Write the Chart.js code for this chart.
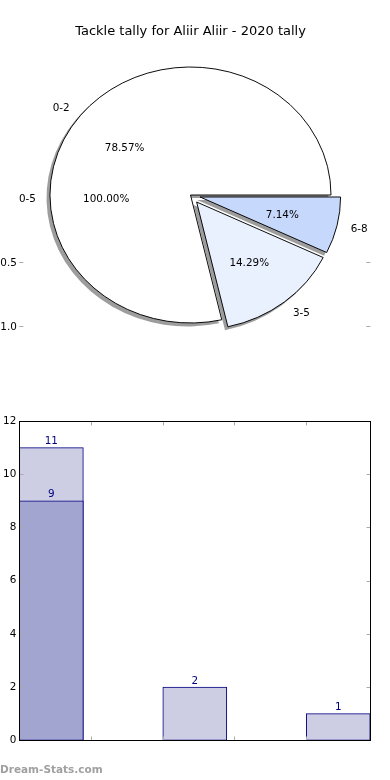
<!DOCTYPE html>
<html>
<head>
<meta charset="utf-8">
<script src="https://cdn.jsdelivr.net/npm/chart.js@4.4.0/dist/chart.umd.min.js"></script>
<style>
  html, body { margin: 0; padding: 0; background: #fff; }
  .box { position: absolute; left: 0; width: 390px; }
  #pieBox { top: 0; height: 380px; }
  #barBox { top: 380px; height: 400px; }
</style>
</head>
<body>
<div class="box" id="pieBox"><canvas id="pieChart"></canvas></div>
<div class="box" id="barBox"><canvas id="barChart"></canvas></div>
<script>
const chartTitle = 'Tackle tally for Aliir Aliir - 2020 tally';

// pie: inner slices (the outer 0-5 pie is hidden underneath, only its labels show)
const sliceLabels  = ['0-2', '3-5', '6-8'];
const sliceValues  = [11, 2, 1];
const sliceColors  = ['#ffffff', '#eaf1fe', '#c6d9fd'];
const sliceExplode = [0, 0.07, 0.07];
const outerLabels  = ['0-5'];
const outerValues  = [14];
const pieAxisTicks = [0.5, 1.0];   // stray y ticks left over on the pie axes

// bars
const barPositions = [0, 1, 2];
const totalCounts  = [11, 2, 1];
const subsetCounts = [9, null, null];

const FONT = 'DejaVu Sans';
const NAVY = '#000080';
const SQUASH = 128 / 140.5;         // pie axes were not square -> ellipse
const AX_LEFT = 19.3, AX_RIGHT = 370.3;
const TEXT_DY = 1.2;                // mpl centers text a touch lower

Chart.defaults.font.family = FONT;
Chart.defaults.animation = false;

// chart.js goes clockwise, matplotlib counter-clockwise: feed slices reversed
const pieLabels  = sliceLabels.slice().reverse();
const pieValues  = sliceValues.slice().reverse();
const pieColors  = sliceColors.slice().reverse();
const pieExplode = sliceExplode.slice().reverse();

function sliceShift(arc, i) {
  const mid = (arc.startAngle + arc.endAngle) / 2;
  const d = pieExplode[i] * arc.outerRadius;
  return { dx: Math.cos(mid) * d, dy: Math.sin(mid) * d, mid };
}

const mplPie = {
  id: 'mplPie',
  beforeDatasetDraw(chart, args) {
    const ctx = chart.ctx;
    const arcs = args.meta.data;
    const cx = arcs[0].x, cy = arcs[0].y;
    ctx.save();
    ctx.translate(cx, cy);
    ctx.scale(1, SQUASH);
    ctx.translate(-cx, -cy);
    // shadows first
    arcs.forEach((arc, i) => {
      const s = sliceShift(arc, i);
      const x = arc.x + s.dx - 3, y = arc.y + s.dy + 3.3;
      ctx.beginPath();
      ctx.moveTo(x, y);
      ctx.arc(x, y, arc.outerRadius + 0.5, arc.startAngle, arc.endAngle);
      ctx.closePath();
      ctx.fillStyle = 'rgba(77,77,77,0.55)';
      ctx.fill();
    });
    arcs.forEach((arc, i) => {
      const s = sliceShift(arc, i);
      ctx.save();
      ctx.translate(s.dx, s.dy);
      arc.draw(ctx);
      ctx.restore();
    });
    ctx.restore();
    return false;
  },
  afterDraw(chart) {
    const ctx = chart.ctx;
    const arcs = chart.getDatasetMeta(0).data;
    const cx = arcs[0].x, cy = arcs[0].y, R = arcs[0].outerRadius;
    const sy = y => cy + (y - cy) * SQUASH + TEXT_DY;
    const total = pieValues.reduce((a, b) => a + b, 0);
    ctx.save();
    ctx.font = '10.4px "' + FONT + '"';
    ctx.fillStyle = '#000';
    ctx.textBaseline = 'middle';

    // hidden outer pie labels (that pie sits a few px lower)
    const outerTotal = outerValues.reduce((a, b) => a + b, 0);
    const ocy = cy + 3;
    let start = 0;
    outerValues.forEach((v, i) => {
      const frac = v / outerTotal;
      const mid = start + Math.PI * frac;
      start += 2 * Math.PI * frac;
      const c = Math.cos(mid), sn = Math.sin(mid);
      ctx.textAlign = c > 0 ? 'left' : 'right';
      ctx.fillText(outerLabels[i], cx + 1.1 * R * c, sy(ocy + 1.1 * R * sn));
      ctx.textAlign = 'center';
      ctx.fillText((frac * 100).toFixed(2) + '%', cx + 0.6 * R * c, sy(ocy + 0.6 * R * sn));
    });

    arcs.forEach((arc, i) => {
      const s = sliceShift(arc, i);
      const c = Math.cos(s.mid), sn = Math.sin(s.mid);
      ctx.textAlign = c > 0 ? 'left' : 'right';
      ctx.fillText(pieLabels[i], arc.x + s.dx + 1.1 * R * c, sy(arc.y + s.dy + 1.1 * R * sn));
      ctx.textAlign = 'center';
      const pct = (pieValues[i] / total * 100).toFixed(2) + '%';
      ctx.fillText(pct, arc.x + s.dx + 0.6 * R * c, sy(arc.y + s.dy + 0.6 * R * sn));
    });

    // stray axis ticks
    ctx.textAlign = 'right';
    pieAxisTicks.forEach(v => {
      const y = Math.round(cy + v * R * SQUASH + 2.5) + 0.5;
      ctx.fillText(v.toFixed(1), AX_LEFT - 2.5, y + 0.5);
      ctx.strokeStyle = '#aaa';
      ctx.lineWidth = 1;
      ctx.beginPath();
      ctx.moveTo(AX_LEFT, y); ctx.lineTo(AX_LEFT + 4, y);
      ctx.moveTo(AX_RIGHT - 4, y); ctx.lineTo(AX_RIGHT, y);
      ctx.stroke();
    });
    ctx.restore();
  }
};

new Chart(document.getElementById('pieChart'), {
  type: 'pie',
  data: {
    labels: pieLabels,
    datasets: [{
      data: pieValues,
      backgroundColor: pieColors,
      borderColor: '#000',
      borderWidth: 1,
      radius: 140.5,
    }]
  },
  options: {
    responsive: true,
    maintainAspectRatio: false,
    rotation: 90,
    events: [],
    layout: { padding: { left: 0, right: 9, top: 0, bottom: 29.6 } },
    plugins: {
      legend: { display: false },
      tooltip: { enabled: false },
      title: {
        display: true,
        text: chartTitle,
        color: '#000',
        font: { size: 13, weight: 'normal', family: FONT },
        padding: { top: 24, bottom: 0 },
      }
    }
  },
  plugins: [mplPie]
});

const mplFrame = {
  id: 'mplFrame',
  afterDatasetsDraw(chart) {
    const ctx = chart.ctx;
    const { left, right, top, bottom } = chart.chartArea;
    const L = Math.round(left) + 0.5, Rr = Math.round(right) + 0.5;
    const T = Math.round(top) + 0.5, B = Math.round(bottom) + 0.5;
    ctx.save();
    // value labels
    ctx.font = '10.4px "' + FONT + '"';
    ctx.fillStyle = NAVY;
    ctx.textAlign = 'center';
    ctx.textBaseline = 'alphabetic';
    chart.data.datasets.forEach((ds, di) => {
      chart.getDatasetMeta(di).data.forEach((bar, i) => {
        const v = ds.data[i].y;
        if (v === null) return;
        ctx.fillText(String(v), bar.x, bar.y - 3.5);
      });
    });
    // tick marks, inward on all four sides
    ctx.strokeStyle = '#aaa';
    ctx.lineWidth = 1;
    ctx.beginPath();
    const ys = chart.scales.y, xs = chart.scales.x;
    ys.ticks.forEach(t => {
      const y = Math.round(ys.getPixelForValue(t.value)) + 0.5;
      ctx.moveTo(L, y); ctx.lineTo(L + 4, y);
      ctx.moveTo(Rr - 4, y); ctx.lineTo(Rr, y);
    });
    xs.ticks.forEach(t => {
      const x = Math.round(xs.getPixelForValue(t.value)) + 0.5;
      ctx.moveTo(x, T); ctx.lineTo(x, T + 4);
      ctx.moveTo(x, B - 4); ctx.lineTo(x, B);
    });
    ctx.stroke();
    // frame
    ctx.strokeStyle = '#000';
    ctx.strokeRect(L, T, Rr - L, B - T);
    // watermark
    ctx.font = 'bold 10.5px "' + FONT + '"';
    ctx.fillStyle = '#a0a0a0';
    ctx.textAlign = 'left';
    ctx.textBaseline = 'middle';
    ctx.fillText('Dream-Stats.com', 0, 390);
    ctx.restore();
  }
};

const toPoints = vals => barPositions.map((x, i) => ({ x, y: vals[i] }));

new Chart(document.getElementById('barChart'), {
  type: 'bar',
  data: {
    datasets: [
      {
        data: toPoints(subsetCounts),
        backgroundColor: '#a3a5d1',
        borderColor: NAVY,
        borderWidth: 1,
        borderSkipped: false,
        barThickness: 64,
        grouped: false,
      },
      {
        data: toPoints(totalCounts),
        backgroundColor: '#cdcde4',
        borderColor: NAVY,
        borderWidth: 1,
        borderSkipped: false,
        barThickness: 64,
        grouped: false,
      }
    ]
  },
  options: {
    responsive: true,
    maintainAspectRatio: false,
    events: [],
    layout: { padding: { left: 0, right: 19.7, top: 41, bottom: 39.7 } },
    plugins: { legend: { display: false }, tooltip: { enabled: false } },
    scales: {
      x: {
        type: 'linear',
        bounds: 'data',
        offset: false,
        min: -0.2235,
        max: 2.2235,
        ticks: { stepSize: 0.5, display: false, includeBounds: false },
        grid: { display: false, drawTicks: false },
        border: { display: false },
        afterFit: s => { s.height = 0; },
      },
      y: {
        min: 0,
        max: 12,
        ticks: { stepSize: 2, color: '#000', padding: 3, font: { size: 10.4 } },
        grid: { display: false, drawTicks: false },
        border: { display: false },
        afterFit: s => { s.width = 19.3; },
      }
    }
  },
  plugins: [mplFrame]
});
</script>
</body>
</html>
